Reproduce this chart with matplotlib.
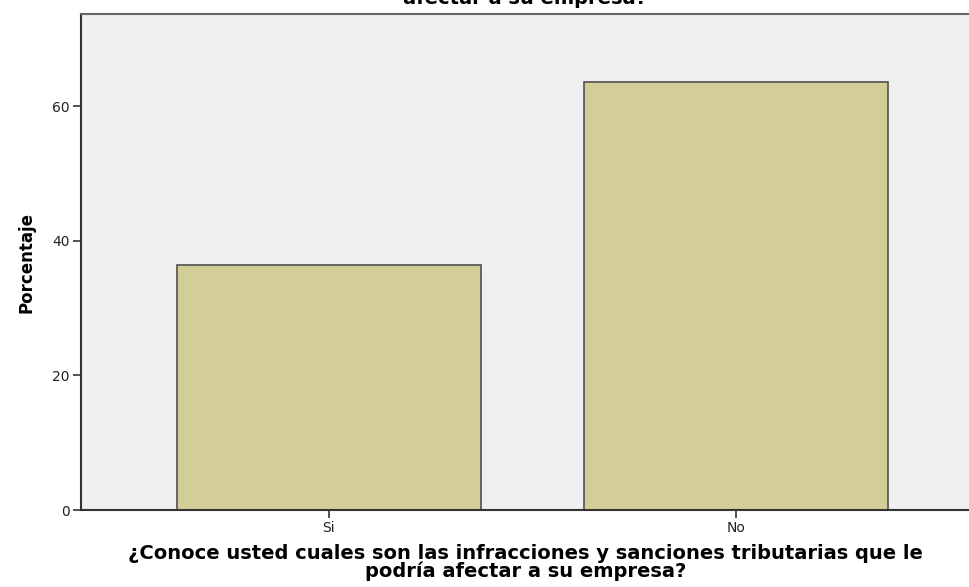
import matplotlib
matplotlib.use('Agg')
import matplotlib.pyplot as plt

categories = ['Si', 'No']
percentages = [36.4, 63.6]
yticks = [0, 20, 40, 60]

plt.rcParams['font.family'] = ['DejaVu Sans']

fig = plt.figure(figsize=(9.7, 5.87), dpi=100)
ax = fig.add_axes([0.0835, 0.131, 0.9165, 0.845])
ax.set_facecolor('#efefef')

x = range(len(categories))
ax.bar(x, percentages, width=0.747, color='#d3ce97', edgecolor='#505050', linewidth=1.2, zorder=2)

ax.set_xlim(-0.609, 1.575)
ax.set_ylim(0, 73.7)
ax.set_xticks(list(x))
ax.set_xticklabels(categories, fontsize=10, color='#222222')
ax.set_yticks(yticks)
ax.set_yticklabels([str(t) for t in yticks], fontsize=10, color='#222222')
ax.tick_params(axis='both', length=6, width=1.2, color='#333333', pad=2)

for s in ['left', 'bottom']:
    ax.spines[s].set_color('#333333')
    ax.spines[s].set_linewidth(1.5)
ax.spines['top'].set_color('#666666')
ax.spines['top'].set_linewidth(1.5)
ax.spines['right'].set_visible(False)

ax.set_ylabel('Porcentaje', fontsize=12, fontweight='bold', labelpad=12)
ax.set_xlabel('¿Conoce usted cuales son las infracciones y sanciones tributarias que le\npodría afectar a su empresa?',
              fontsize=14, fontweight='bold', linespacing=0.95, labelpad=6)

# title mostly cut off at the top of the image
fig.text(0.5417, 1 - 4 / 587, '¿Conoce usted cuales son las infracciones y sanciones tributarias que le podría\nafectar a su empresa?',
         ha='center', va='baseline', fontsize=14, fontweight='bold', linespacing=0.95)

fig.savefig('out.png', dpi=100)
